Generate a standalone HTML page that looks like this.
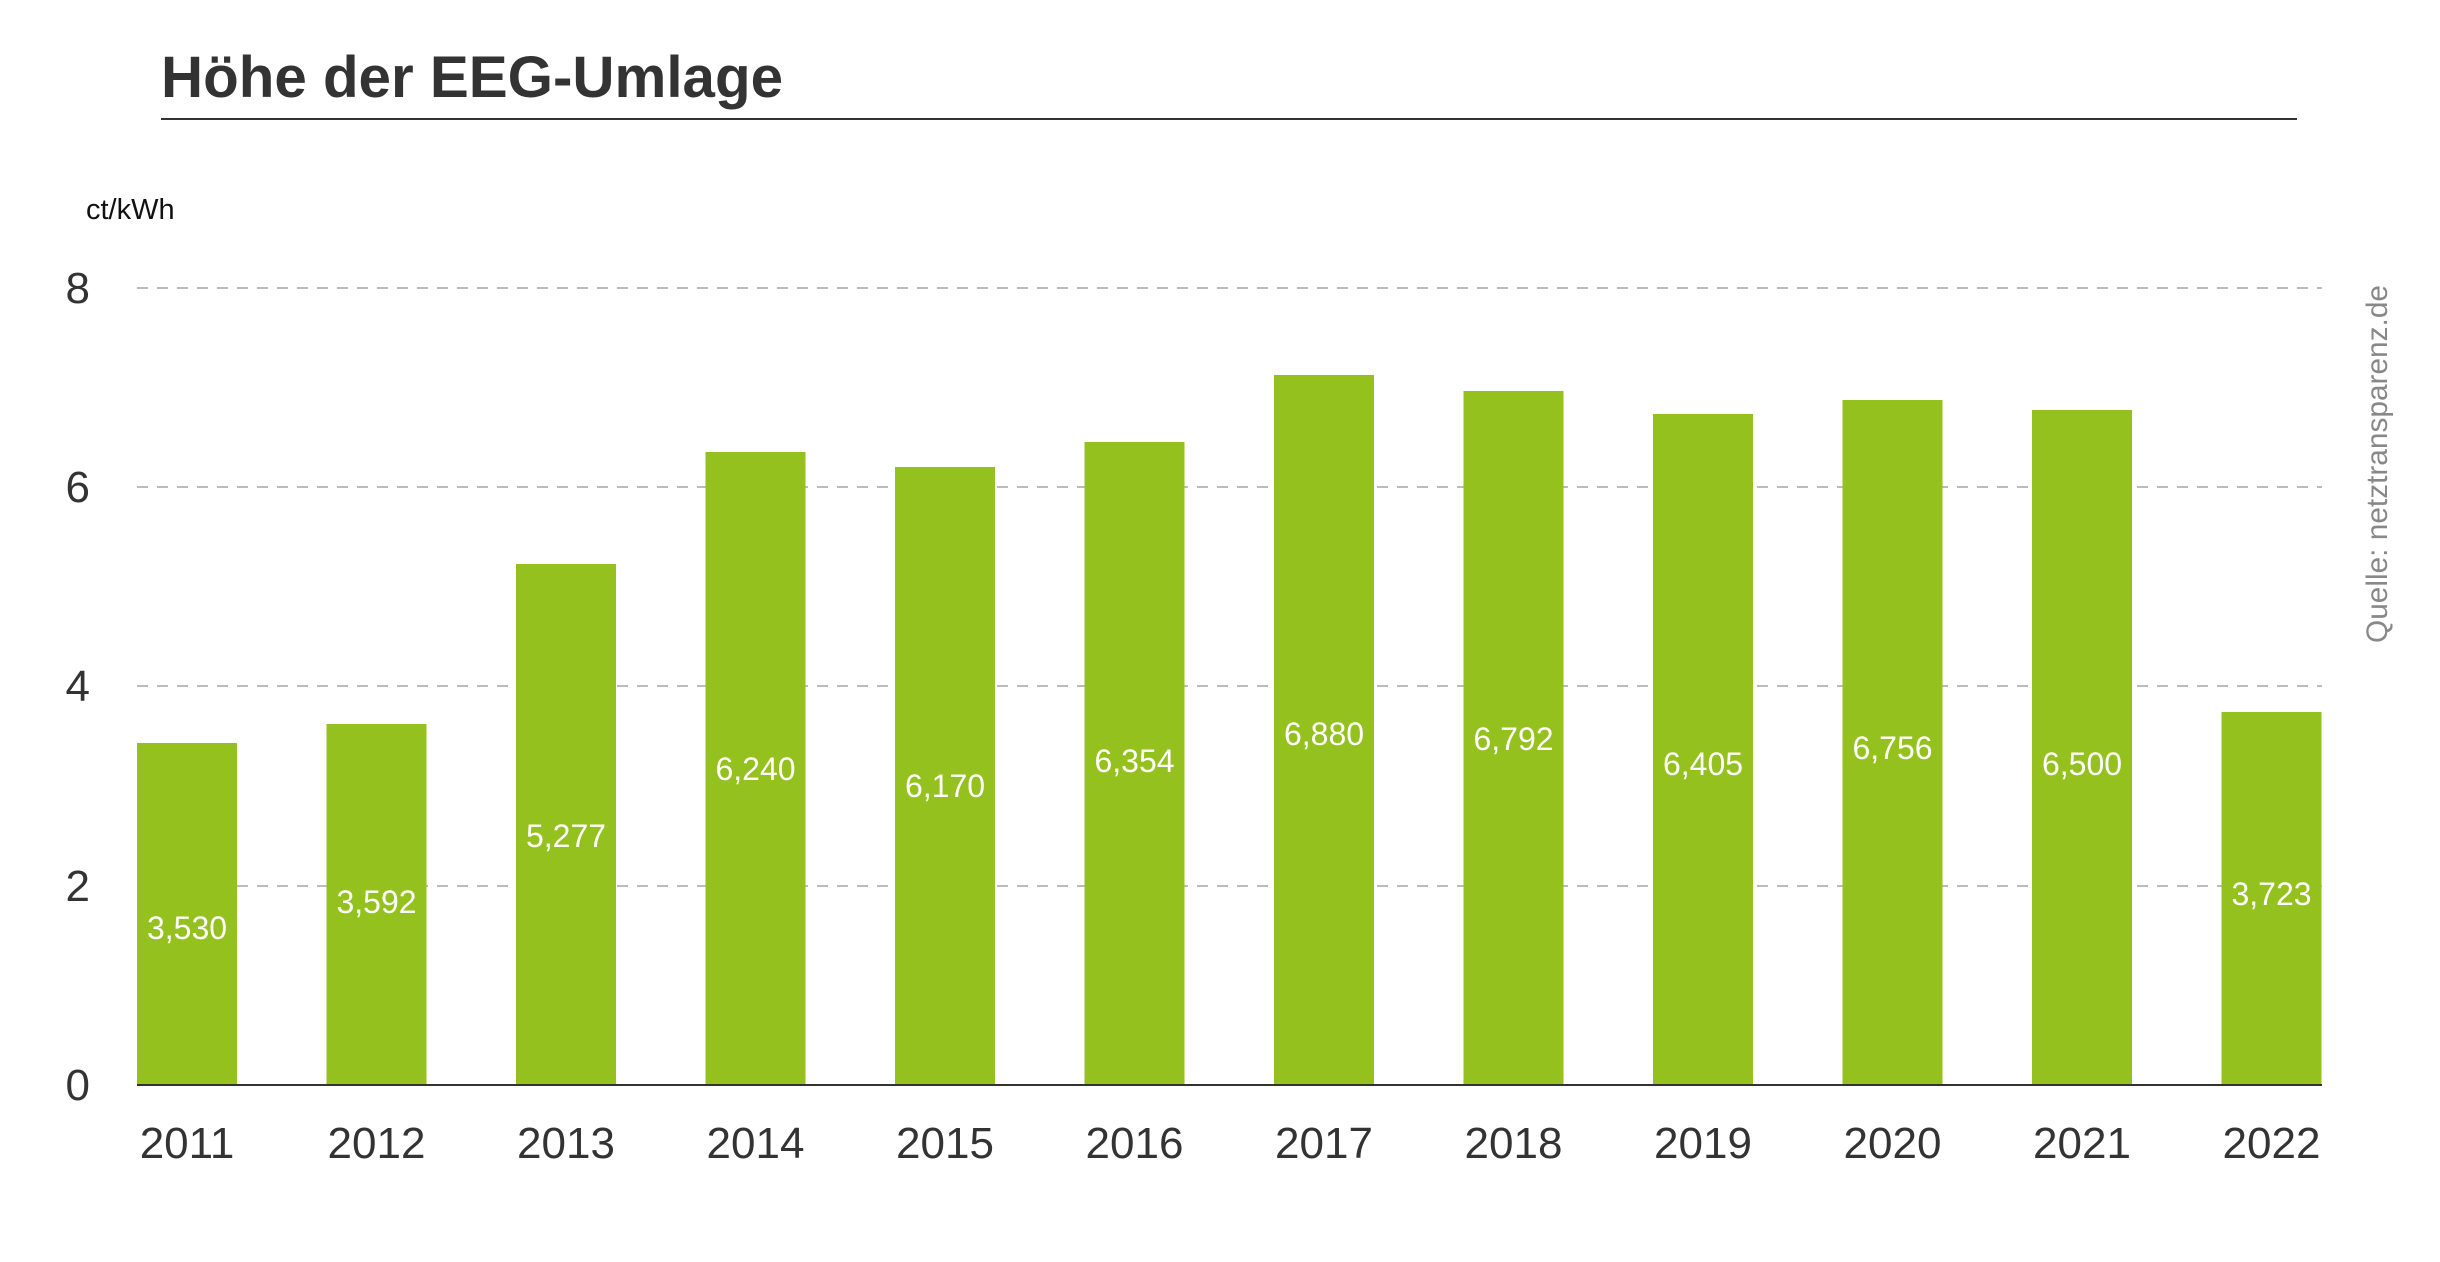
<!DOCTYPE html>
<html><head><meta charset="utf-8"><style>
html,body{margin:0;padding:0;background:#fff;}
svg{display:block;}
</style></head><body>
<svg width="2440" height="1262" viewBox="0 0 2440 1262" xmlns="http://www.w3.org/2000/svg" font-family="Liberation Sans, sans-serif">
<text x="161" y="97" font-size="58" font-weight="bold" fill="#333" textLength="622" lengthAdjust="spacingAndGlyphs">Höhe der EEG-Umlage</text>
<line x1="161" y1="119" x2="2297" y2="119" stroke="#333" stroke-width="2"/>
<text x="86" y="219" font-size="29" fill="#111">ct/kWh</text>
<g stroke="#bbb" stroke-width="2" stroke-dasharray="11,9">
<line x1="137" y1="288" x2="2322" y2="288"/>
<line x1="137" y1="487" x2="2322" y2="487"/>
<line x1="137" y1="686" x2="2322" y2="686"/>
<line x1="137" y1="886" x2="2322" y2="886"/>
</g>
<g font-size="44" fill="#333" text-anchor="end">
<text x="90" y="303">8</text>
<text x="90" y="502">6</text>
<text x="90" y="701">4</text>
<text x="90" y="901">2</text>
<text x="90" y="1100">0</text>
</g>
<g fill="#95c11f">
<rect x="137" y="743" width="100" height="342"/>
<rect x="326.5" y="724" width="100" height="361"/>
<rect x="516" y="564" width="100" height="521"/>
<rect x="705.5" y="452" width="100" height="633"/>
<rect x="895" y="467" width="100" height="618"/>
<rect x="1084.5" y="442" width="100" height="643"/>
<rect x="1274" y="375" width="100" height="710"/>
<rect x="1463.5" y="391" width="100" height="694"/>
<rect x="1653" y="414" width="100" height="671"/>
<rect x="1842.5" y="400" width="100" height="685"/>
<rect x="2032" y="410" width="100" height="675"/>
<rect x="2221.5" y="712" width="100" height="373"/>
</g>
<line x1="137" y1="1085" x2="2322" y2="1085" stroke="#333" stroke-width="2"/>
<g font-size="32" fill="#fff" text-anchor="middle">
<text x="187" y="939">3,530</text>
<text x="376.5" y="913">3,592</text>
<text x="566" y="847">5,277</text>
<text x="755.5" y="780">6,240</text>
<text x="945" y="797">6,170</text>
<text x="1134.5" y="772">6,354</text>
<text x="1324" y="745">6,880</text>
<text x="1513.5" y="750">6,792</text>
<text x="1703" y="775">6,405</text>
<text x="1892.5" y="759">6,756</text>
<text x="2082" y="775">6,500</text>
<text x="2271.5" y="905">3,723</text>
</g>
<g font-size="44" fill="#333" text-anchor="middle">
<text x="187" y="1158">2011</text>
<text x="376.5" y="1158">2012</text>
<text x="566" y="1158">2013</text>
<text x="755.5" y="1158">2014</text>
<text x="945" y="1158">2015</text>
<text x="1134.5" y="1158">2016</text>
<text x="1324" y="1158">2017</text>
<text x="1513.5" y="1158">2018</text>
<text x="1703" y="1158">2019</text>
<text x="1892.5" y="1158">2020</text>
<text x="2082" y="1158">2021</text>
<text x="2271.5" y="1158">2022</text>
</g>
<text transform="translate(2387,643) rotate(-90)" font-size="30" fill="#888" textLength="358" lengthAdjust="spacingAndGlyphs">Quelle: netztransparenz.de</text>
</svg>
</body></html>
